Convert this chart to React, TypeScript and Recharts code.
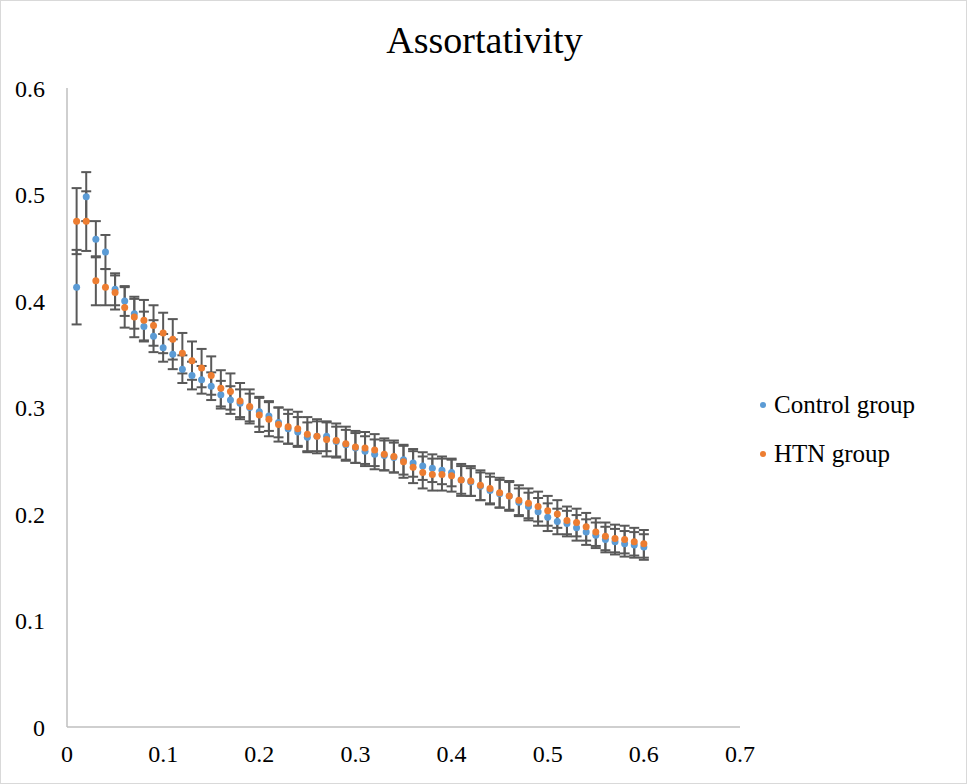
import React from 'react';
import { ScatterChart, Scatter, XAxis, YAxis, ErrorBar } from 'recharts';

const TITLE = 'Assortativity';
const SERIES_NAMES = ['Control group', 'HTN group'];
const COLORS = ['#5B9BD5', '#ED7D31'];

const X_VALUES = [
  0.01, 0.02, 0.03, 0.04, 0.05, 0.06, 0.07, 0.08, 0.09, 0.10,
  0.11, 0.12, 0.13, 0.14, 0.15, 0.16, 0.17, 0.18, 0.19, 0.20,
  0.21, 0.22, 0.23, 0.24, 0.25, 0.26, 0.27, 0.28, 0.29, 0.30,
  0.31, 0.32, 0.33, 0.34, 0.35, 0.36, 0.37, 0.38, 0.39, 0.40,
  0.41, 0.42, 0.43, 0.44, 0.45, 0.46, 0.47, 0.48, 0.49, 0.50,
  0.51, 0.52, 0.53, 0.54, 0.55, 0.56, 0.57, 0.58, 0.59, 0.60,
];

const CONTROL = [
  0.413, 0.498, 0.458, 0.446, 0.411, 0.400, 0.388, 0.376, 0.367, 0.356,
  0.350, 0.336, 0.330, 0.326, 0.320, 0.312, 0.307, 0.304, 0.300, 0.296,
  0.292, 0.286, 0.280, 0.277, 0.272, 0.273, 0.273, 0.268, 0.265, 0.262,
  0.259, 0.256, 0.255, 0.253, 0.251, 0.248, 0.245, 0.243, 0.241, 0.239,
  0.232, 0.230, 0.226, 0.222, 0.219, 0.217, 0.211, 0.207, 0.202, 0.197,
  0.193, 0.191, 0.187, 0.183, 0.180, 0.176, 0.174, 0.172, 0.171, 0.169,
];

const HTN = [
  0.475, 0.475, 0.419, 0.413, 0.408, 0.394, 0.385, 0.382, 0.377, 0.370,
  0.364, 0.351, 0.344, 0.337, 0.330, 0.318, 0.315, 0.306, 0.301, 0.293,
  0.289, 0.284, 0.282, 0.280, 0.275, 0.273, 0.270, 0.269, 0.266, 0.263,
  0.262, 0.260, 0.256, 0.254, 0.249, 0.244, 0.239, 0.237, 0.237, 0.236,
  0.232, 0.231, 0.227, 0.224, 0.220, 0.217, 0.213, 0.210, 0.207, 0.203,
  0.200, 0.194, 0.192, 0.188, 0.183, 0.179, 0.177, 0.176, 0.174, 0.172,
];

const CONTROL_ERR = [
  0.035, 0.023, 0.017, 0.016, 0.015, 0.014, 0.014, 0.014, 0.015, 0.013,
  0.014, 0.013, 0.013, 0.013, 0.013, 0.013, 0.013, 0.013, 0.013, 0.014,
  0.014, 0.014, 0.014, 0.014, 0.014, 0.014, 0.014, 0.014, 0.014, 0.014,
  0.014, 0.014, 0.014, 0.014, 0.014, 0.013, 0.013, 0.013, 0.013, 0.013,
  0.013, 0.013, 0.013, 0.013, 0.013, 0.013, 0.013, 0.013, 0.013, 0.013,
  0.012, 0.012, 0.012, 0.012, 0.012, 0.012, 0.012, 0.012, 0.012, 0.012,
];

const HTN_ERR = [
  0.031, 0.028, 0.023, 0.017, 0.016, 0.019, 0.019, 0.019, 0.019, 0.019,
  0.019, 0.019, 0.018, 0.018, 0.018, 0.017, 0.017, 0.017, 0.016, 0.016,
  0.016, 0.016, 0.016, 0.016, 0.016, 0.016, 0.016, 0.016, 0.016, 0.015,
  0.015, 0.015, 0.015, 0.015, 0.015, 0.015, 0.015, 0.015, 0.015, 0.015,
  0.015, 0.014, 0.014, 0.014, 0.014, 0.014, 0.014, 0.014, 0.014, 0.014,
  0.013, 0.013, 0.013, 0.013, 0.013, 0.013, 0.013, 0.013, 0.013, 0.013,
];

const X_TICKS = [0, 0.1, 0.2, 0.3, 0.4, 0.5, 0.6, 0.7];
const Y_TICKS = [0, 0.1, 0.2, 0.3, 0.4, 0.5, 0.6];

const controlData = X_VALUES.map((x, i) => ({ x, y: CONTROL[i], err: CONTROL_ERR[i] }));
const htnData = X_VALUES.map((x, i) => ({ x, y: HTN[i], err: HTN_ERR[i] }));

const FONT = '"Liberation Serif", "Times New Roman", serif';
const AXIS_COLOR = '#BFBFBF';
const ERR_COLOR = '#595959';

const makeDot = (color: string) => (props: any) => {
  if (props.cx == null || props.cy == null) return <g />;
  return <circle cx={props.cx} cy={props.cy} r={3.5} fill={color} />;
};
const emptyShape = () => <g />;

export default function App() {
  return (
    <div
      style={{
        position: 'absolute',
        left: 0,
        top: 0,
        width: 967,
        height: 784,
        border: '1px solid #D9D9D9',
        boxSizing: 'border-box',
        background: '#fff',
      }}
    >
      <div
        style={{
          position: 'absolute',
          left: 0,
          width: 967,
          top: 16,
          textAlign: 'center',
          fontFamily: FONT,
          fontSize: 38,
          color: '#000',
          lineHeight: '46px',
        }}
      >
        {TITLE}
      </div>
      <div
        style={{
          position: 'absolute',
          left: 755,
          top: 379,
          fontFamily: FONT,
          fontSize: 25,
          color: '#000',
        }}
      >
        {SERIES_NAMES.map((name, i) => (
          <div key={name} style={{ display: 'flex', alignItems: 'center', height: 49 }}>
            <svg width={14} height={10} style={{ marginRight: 4 }}>
              <circle cx={7} cy={5} r={3} fill={COLORS[i]} />
            </svg>
            <span>{name}</span>
          </div>
        ))}
      </div>
      <div style={{ position: 'absolute', left: -1, top: -1 }}>
        <ScatterChart width={967} height={784} margin={{ top: 88, right: 227, bottom: 27, left: 7 }}>
          <XAxis
            type="number"
            dataKey="x"
            domain={[0, 0.7]}
            ticks={X_TICKS}
            height={30}
            axisLine={{ stroke: AXIS_COLOR, strokeWidth: 1.5 }}
            tickLine={false}
            tickSize={0}
            tickMargin={18}
            tick={{ fill: '#000', fontSize: 24, fontFamily: FONT }}
            allowDataOverflow
          />
          <YAxis
            type="number"
            dataKey="y"
            domain={[0, 0.6]}
            ticks={Y_TICKS}
            width={60}
            axisLine={{ stroke: AXIS_COLOR, strokeWidth: 1.5 }}
            tickLine={false}
            tickSize={0}
            tickMargin={22}
            tick={{ fill: '#000', fontSize: 24, fontFamily: FONT }}
            allowDataOverflow
          />
          <Scatter name="ctrl-err" data={controlData} shape={emptyShape} legendType="none" isAnimationActive={false}>
            <ErrorBar dataKey="err" direction="y" width={5} stroke={ERR_COLOR} strokeWidth={2} isAnimationActive={false} />
          </Scatter>
          <Scatter name="htn-err" data={htnData} shape={emptyShape} legendType="none" isAnimationActive={false}>
            <ErrorBar dataKey="err" direction="y" width={5} stroke={ERR_COLOR} strokeWidth={2} isAnimationActive={false} />
          </Scatter>
          <Scatter name={SERIES_NAMES[0]} data={controlData} fill={COLORS[0]} shape={makeDot(COLORS[0])} isAnimationActive={false} />
          <Scatter name={SERIES_NAMES[1]} data={htnData} fill={COLORS[1]} shape={makeDot(COLORS[1])} isAnimationActive={false} />
        </ScatterChart>
      </div>
    </div>
  );
}
